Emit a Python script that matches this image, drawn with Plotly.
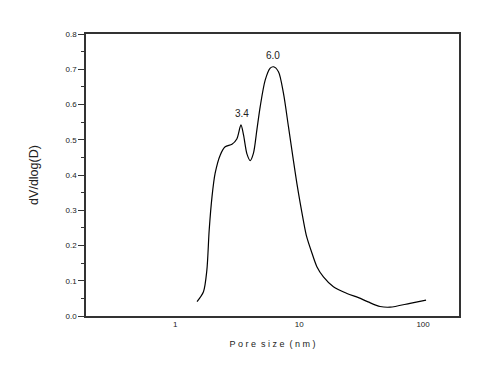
import math
import plotly.graph_objects as go

pore_size_nm = [1.50, 1.69, 1.80, 1.88, 1.98, 2.10, 2.31, 2.53, 2.87, 3.14, 3.39, 3.56,
                3.79, 4.03, 4.28, 4.56, 4.85, 5.32, 5.84, 6.21, 6.81, 7.47, 8.2, 9.0,
                9.6, 10.2, 10.8, 11.5, 12.7, 13.9, 15.7, 18.9, 24.3, 30.1, 36.0, 45.0,
                54.2, 78.5, 105.7]
dv_dlogd = [0.041, 0.069, 0.130, 0.244, 0.338, 0.405, 0.457, 0.480, 0.487, 0.502, 0.542, 0.513,
            0.460, 0.441, 0.462, 0.528, 0.594, 0.669, 0.703, 0.707, 0.693, 0.632, 0.537, 0.440,
            0.375, 0.320, 0.272, 0.225, 0.178, 0.140, 0.111, 0.083, 0.064, 0.052, 0.040, 0.027,
            0.025, 0.036, 0.045]

peak_labels = ["3.4", "6.0"]
peak_x = [3.45, 6.1]
peak_y = [0.542, 0.707]

x_tickvals = [1, 10, 100]
x_ticktext = ["1", "10", "100"]
y_tickvals = [0.0, 0.1, 0.2, 0.3, 0.4, 0.5, 0.6, 0.7, 0.8]

font = "Liberation Sans, Arial, sans-serif"

fig = go.Figure()
fig.add_trace(go.Scatter(
    x=pore_size_nm, y=dv_dlogd, mode="lines",
    line=dict(color="black", width=1.2, shape="spline", smoothing=0.8),
    showlegend=False, hoverinfo="skip"))

for lab, px, py in zip(peak_labels, peak_x, peak_y):
    fig.add_annotation(x=math.log10(px), y=py, xref="x", yref="y", text=lab, showarrow=False,
                       yshift=11, font=dict(family=font, size=10, color="#222"))

# page body has an 8px default margin, so the figure is sized/offset to compensate
fig.update_layout(
    width=492, height=366,
    margin=dict(l=78, r=41, t=26, b=58),
    paper_bgcolor="white", plot_bgcolor="white",
    font=dict(family=font, size=8, color="#222"),
    xaxis=dict(
        type="log", range=[-0.72, 2.29],
        tickvals=x_tickvals, ticktext=x_ticktext,
        ticks="", showgrid=False, zeroline=False,
        showline=True, linecolor="#333", linewidth=1.5, mirror=True,
        tickfont=dict(family=font, size=8, color="#222"),
        title=dict(text="P o r e  s i z e  ( n m )", font=dict(family=font, size=9, color="#222"), standoff=12),
    ),
    yaxis=dict(
        range=[0, 0.8], tickvals=y_tickvals, tickformat=".1f",
        ticks="outside", ticklen=6, tickwidth=1, tickcolor="#333",
        minor=dict(dtick=0.05, ticks="outside", ticklen=3, tickcolor="#333", showgrid=False),
        showgrid=False, zeroline=False,
        showline=True, linecolor="#333", linewidth=1.5, mirror=True,
        tickfont=dict(family=font, size=8, color="#222"),
        title=dict(text="dV/dlog(D)", font=dict(family=font, size=12.5, color="#222"), standoff=24),
    ),
)

fig.write_html("out.html")
